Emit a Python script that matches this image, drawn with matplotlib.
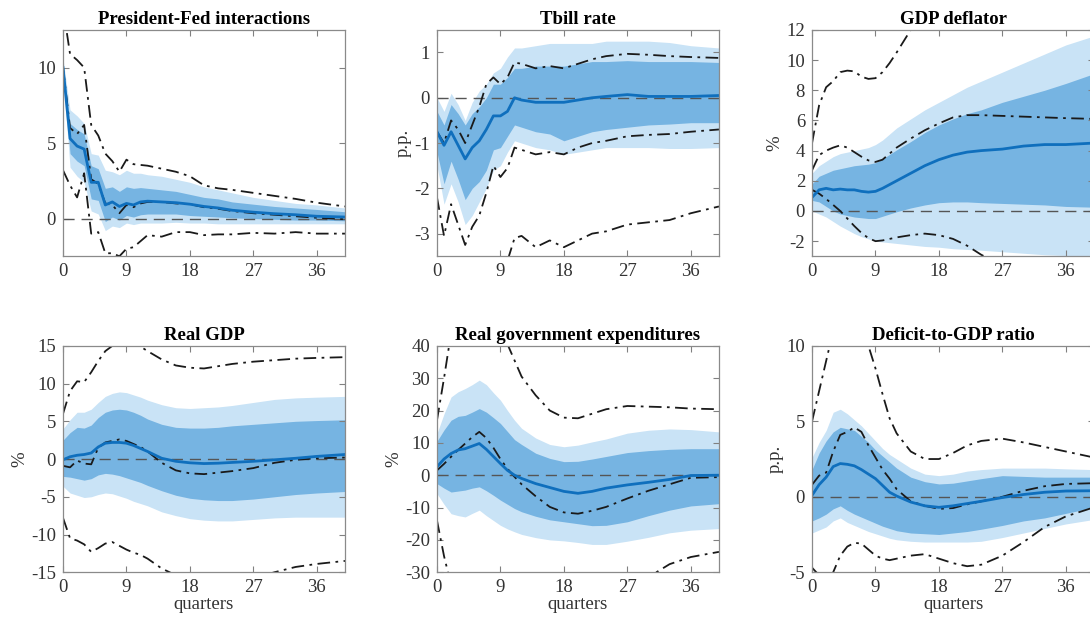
import numpy as np
import matplotlib
matplotlib.use('Agg')
import matplotlib.pyplot as plt

plt.rcParams['font.family'] = ['Liberation Serif', 'DejaVu Serif']
plt.rcParams['axes.unicode_minus'] = False

quarters = [0, 1, 2, 3, 4, 5, 6, 7, 8, 9, 10, 11, 12, 14, 16, 18, 20, 22, 24, 27, 30, 33, 36, 40]

titles = ['President-Fed interactions', 'Tbill rate', 'GDP deflator',
          'Real GDP', 'Real government expenditures', 'Deficit-to-GDP ratio']
ylabels = ['', 'p.p.', '%', '%', '%', 'p.p.']
ylims = [(-2.5, 12.5), (-3.5, 1.5), (-3, 12), (-15, 15), (-30, 40), (-5, 10)]
yticks = [[0, 5, 10], [-3, -2, -1, 0, 1], [-2, 0, 2, 4, 6, 8, 10, 12],
          [-15, -10, -5, 0, 5, 10, 15], [-30, -20, -10, 0, 10, 20, 30, 40],
          [-5, 0, 5, 10]]
xticks = [0, 9, 18, 27, 36]

# President-Fed interactions
pf_med = [10, 5.3, 4.8, 4.6, 2.4, 2.4, 0.9, 1.1, 0.8, 1.0, 0.9, 1.1, 1.15, 1.1, 1.05, 0.95, 0.8, 0.7, 0.55, 0.42, 0.32, 0.25, 0.15, 0.1]
pf_d_hi = [10.3, 6.3, 5.9, 5.6, 3.5, 3.3, 2.0, 2.1, 1.8, 2.1, 2.0, 2.05, 2.0, 1.9, 1.8, 1.6, 1.4, 1.3, 1.1, 0.95, 0.8, 0.7, 0.6, 0.45]
pf_d_lo = [9.7, 4.3, 3.8, 3.5, 1.3, 1.2, -0.2, 0.1, -0.1, 0.2, 0.1, 0.25, 0.3, 0.3, 0.3, 0.2, 0.15, 0.1, 0.05, 0.0, -0.05, -0.1, -0.1, -0.15]
pf_l_hi = [10.6, 7.2, 6.8, 6.3, 4.3, 4.2, 3.2, 3.1, 2.9, 3.2, 3.0, 3.0, 2.9, 2.8, 2.6, 2.4, 2.1, 1.9, 1.7, 1.4, 1.2, 1.0, 0.9, 0.7]
pf_l_lo = [9.3, 3.4, 2.8, 2.4, 0.5, 0.3, -0.8, -0.5, -0.6, -0.3, -0.4, -0.3, -0.3, -0.3, -0.25, -0.3, -0.3, -0.35, -0.35, -0.35, -0.35, -0.35, -0.35, -0.35]
pf_a_hi = [14, 10.9, 10.5, 10.0, 6.2, 5.5, 4.3, 3.8, 3.1, 3.9, 3.6, 3.55, 3.5, 3.3, 3.1, 2.8, 2.2, 2.0, 1.9, 1.7, 1.5, 1.3, 1.05, 0.8]
pf_a_med = [10, 6.0, 5.6, 6.2, 2.6, 2.3, 1.0, 0.9, 0.35, 0.9, 0.75, 1.0, 1.1, 1.1, 1.0, 0.95, 0.75, 0.65, 0.5, 0.35, 0.25, 0.15, 0.05, -0.05]
pf_a_lo = [3.2, 2.2, 1.4, 3.0, -1.0, -0.9, -2.3, -2.3, -2.5, -2.0, -1.9, -1.5, -1.1, -1.2, -0.9, -0.9, -1.1, -1.05, -1.05, -0.95, -1.0, -0.9, -1.0, -1.0]

# Tbill rate
tb_med = [-0.75, -1.05, -0.75, -1.05, -1.35, -1.1, -0.95, -0.7, -0.4, -0.4, -0.3, 0.0, -0.05, -0.1, -0.1, -0.1, -0.05, 0.0, 0.03, 0.07, 0.03, 0.03, 0.03, 0.05]
tb_d_hi = [-0.3, -0.6, -0.15, -0.35, -0.6, -0.35, -0.2, 0.0, 0.3, 0.3, 0.45, 0.65, 0.65, 0.7, 0.7, 0.7, 0.75, 0.8, 0.8, 0.82, 0.8, 0.8, 0.8, 0.78]
tb_d_lo = [-1.2, -1.9, -1.4, -1.8, -2.25, -2.0, -1.85, -1.6, -1.15, -1.1, -0.85, -0.6, -0.65, -0.75, -0.8, -0.95, -0.85, -0.75, -0.7, -0.65, -0.6, -0.58, -0.55, -0.55]
tb_l_hi = [0.0, -0.3, 0.1, -0.15, -0.5, -0.1, 0.15, 0.3, 0.55, 0.65, 0.9, 1.1, 1.1, 1.15, 1.2, 1.2, 1.2, 1.2, 1.25, 1.25, 1.25, 1.22, 1.15, 1.1]
tb_l_lo = [-1.5, -2.35, -1.9, -2.3, -2.8, -2.6, -2.3, -2.0, -1.6, -1.5, -1.2, -0.95, -1.0, -1.1, -1.15, -1.25, -1.2, -1.15, -1.1, -1.1, -1.1, -1.12, -1.12, -1.1]
tb_a_hi = [-0.75, -1.0, -0.5, -0.7, -1.0, -0.6, -0.2, 0.3, 0.45, 0.3, 0.45, 0.78, 0.75, 0.65, 0.7, 0.65, 0.75, 0.85, 0.92, 0.97, 0.95, 0.92, 0.9, 0.88]
tb_a_med = [-2.2, -3.05, -2.35, -2.8, -3.25, -2.85, -2.6, -2.1, -1.5, -1.75, -1.55, -1.1, -1.15, -1.25, -1.2, -1.25, -1.1, -1.0, -0.95, -0.85, -0.82, -0.8, -0.75, -0.7]
tb_a_lo = [-5.5, -6.5, -6.0, -6.2, -6.5, -6.0, -5.5, -5.0, -4.6, -4.2, -3.6, -3.1, -3.05, -3.3, -3.15, -3.3, -3.15, -3.0, -2.95, -2.8, -2.75, -2.7, -2.55, -2.4]

# GDP deflator
gd_med = [0.9, 1.4, 1.5, 1.4, 1.45, 1.4, 1.4, 1.3, 1.25, 1.3, 1.5, 1.75, 2.0, 2.5, 3.0, 3.4, 3.7, 3.9, 4.0, 4.1, 4.3, 4.4, 4.4, 4.5]
gd_d_hi = [1.8, 2.3, 2.5, 2.7, 2.8, 2.9, 3.0, 3.05, 3.1, 3.2, 3.45, 3.75, 4.05, 4.6, 5.2, 5.7, 6.1, 6.45, 6.7, 7.2, 7.6, 8.0, 8.45, 9.1]
gd_d_lo = [0.7, 0.6, 0.3, 0.0, -0.2, -0.3, -0.4, -0.45, -0.5, -0.5, -0.35, -0.2, -0.05, 0.2, 0.4, 0.55, 0.6, 0.6, 0.55, 0.5, 0.45, 0.4, 0.3, 0.25]
gd_l_hi = [2.5, 3.0, 3.3, 3.6, 3.8, 3.9, 4.0, 4.1, 4.2, 4.4, 4.7, 5.1, 5.5, 6.1, 6.7, 7.2, 7.7, 8.2, 8.6, 9.2, 9.8, 10.4, 11.0, 11.6]
gd_l_lo = [0.0, -0.2, -0.4, -0.7, -1.0, -1.25, -1.5, -1.7, -1.85, -2.0, -2.05, -2.1, -2.15, -2.25, -2.35, -2.4, -2.5, -2.55, -2.6, -2.7, -2.8, -2.9, -2.95, -3.05]
gd_a_hi = [4.5, 7.0, 8.2, 8.6, 9.2, 9.3, 9.25, 8.9, 8.75, 8.8, 9.2, 9.8, 10.5, 12.0, 13.2, 14.3, 15.3, 16.2, 17.0, 18.0, 19.0, 19.8, 20.5, 21.0]
gd_a_med = [2.7, 3.7, 4.0, 4.2, 4.35, 4.2, 3.9, 3.6, 3.35, 3.25, 3.4, 3.8, 4.2, 4.8, 5.35, 5.8, 6.2, 6.35, 6.35, 6.3, 6.25, 6.2, 6.15, 6.1]
gd_a_lo = [1.4, 1.15, 0.8, 0.4, 0.0, -0.5, -1.0, -1.45, -1.8, -2.0, -1.95, -1.85, -1.75, -1.6, -1.5, -1.6, -1.85, -2.3, -2.9, -3.6, -4.3, -4.9, -5.5, -6.2]

# Real GDP
rg_med = [-0.1, 0.3, 0.5, 0.6, 0.8, 1.6, 2.1, 2.2, 2.2, 2.1, 1.8, 1.4, 1.0, 0.1, -0.3, -0.5, -0.6, -0.55, -0.45, -0.3, -0.1, 0.1, 0.35, 0.6]
rg_d_hi = [2.5, 3.5, 4.2, 4.1, 4.5, 5.5, 6.2, 6.5, 6.6, 6.5, 6.2, 5.8, 5.3, 4.6, 4.2, 4.1, 4.1, 4.2, 4.4, 4.6, 4.8, 5.0, 5.1, 5.2]
rg_d_lo = [-2.3, -2.4, -2.6, -2.8, -2.6, -2.1, -1.9, -2.0, -2.2, -2.5, -2.8, -3.1, -3.5, -4.2, -4.8, -5.2, -5.4, -5.5, -5.5, -5.3, -5.0, -4.7, -4.5, -4.3]
rg_l_hi = [4.0, 5.2, 6.2, 6.2, 6.6, 7.5, 8.3, 8.7, 8.9, 8.8, 8.5, 8.2, 7.8, 7.2, 6.8, 6.7, 6.8, 6.9, 7.1, 7.5, 7.9, 8.1, 8.2, 8.3]
rg_l_lo = [-3.6, -4.5, -4.8, -5.1, -5.0, -4.7, -4.5, -4.6, -4.9, -5.2, -5.6, -5.9, -6.2, -7.0, -7.5, -7.9, -8.1, -8.2, -8.2, -8.0, -7.8, -7.7, -7.7, -7.7]
rg_a_hi = [6.0, 9.0, 10.3, 10.2, 11.5, 13.0, 14.3, 15.0, 15.5, 15.6, 15.3, 14.9, 14.3, 13.2, 12.4, 12.1, 12.0, 12.3, 12.6, 12.9, 13.1, 13.3, 13.4, 13.5]
rg_a_med = [-0.9, -1.1, -0.2, -0.6, -0.7, 1.5, 2.2, 2.4, 2.6, 2.4, 2.0, 1.6, 1.0, -0.5, -1.5, -1.9, -2.0, -1.8, -1.6, -1.2, -0.5, -0.1, 0.1, 0.2]
rg_a_lo = [-7.8, -10.5, -10.8, -11.3, -12.3, -11.8, -11.2, -11.0, -11.5, -12.0, -12.4, -12.7, -13.2, -14.5, -15.4, -16.0, -16.5, -16.6, -16.4, -15.8, -15.0, -14.3, -13.9, -13.5]

# Real government expenditures
ge_med = [2.6, 5.0, 6.7, 7.8, 8.2, 9.0, 9.8, 8.0, 5.8, 3.6, 1.5, 0.0, -1.0, -2.6, -3.8, -5.0, -5.6, -5.0, -4.0, -3.0, -2.2, -1.3, -0.1, 0.0]
ge_d_hi = [10.5, 14.0, 17.0, 18.2, 18.5, 19.5, 20.6, 19.5, 17.8, 16.0, 13.5, 11.0, 9.5, 6.8, 5.2, 4.2, 4.3, 5.0, 5.8, 7.0, 7.6, 8.0, 8.2, 8.2]
ge_d_lo = [-2.6, -4.0, -5.2, -4.9, -4.6, -4.0, -3.6, -4.8, -6.2, -7.7, -9.0, -10.3, -11.3, -12.7, -13.8, -14.4, -15.0, -15.6, -15.5, -14.4, -12.5, -10.8, -9.5, -8.8]
ge_l_hi = [12.9, 19.0, 24.2, 25.8, 26.8, 28.0, 29.4, 28.0, 25.5, 23.2, 20.0, 17.0, 14.5, 11.5, 9.5, 8.8, 9.3, 10.3, 11.2, 13.0, 13.9, 14.3, 14.1, 13.4]
ge_l_lo = [-5.7, -9.0, -11.9, -12.5, -12.9, -11.8, -10.8, -12.5, -14.0, -15.5, -16.6, -17.5, -18.3, -19.3, -20.0, -20.3, -20.8, -21.4, -21.4, -20.4, -19.2, -17.8, -17.0, -16.5]
ge_a_hi = [17, 30, 44, 52, 56, 58, 58, 56, 52, 46, 40.5, 35.5, 30.5, 24.7, 20.0, 17.8, 17.6, 19.0, 20.4, 21.4, 21.2, 21.0, 20.6, 20.4]
ge_a_med = [1.5, 3.5, 5.7, 7.8, 9.8, 11.8, 13.4, 11.5, 8.5, 5.0, 2.0, -0.5, -2.8, -6.5, -9.8, -11.5, -11.9, -11.0, -9.8, -7.2, -4.8, -2.8, -0.8, -0.6]
ge_a_lo = [-14, -25, -34, -40, -45, -48, -50, -50, -49, -48, -47, -46, -45, -43, -41, -40, -39, -38, -36.5, -34, -31.5, -27.5, -25.3, -23.7]

# Deficit-to-GDP ratio
dg_med = [0.1, 0.8, 1.3, 2.0, 2.2, 2.15, 2.05, 1.8, 1.5, 1.2, 0.75, 0.3, 0.05, -0.35, -0.6, -0.7, -0.6, -0.45, -0.3, -0.05, 0.15, 0.3, 0.38, 0.4]
dg_d_hi = [1.8, 2.9, 3.7, 4.3, 4.6, 4.5, 4.4, 4.0, 3.6, 3.1, 2.7, 2.3, 1.9, 1.3, 1.0, 0.85, 0.9, 1.05, 1.2, 1.4, 1.35, 1.3, 1.3, 1.3]
dg_d_lo = [-1.6, -1.4, -1.15, -0.8, -0.6, -0.9, -1.15, -1.35, -1.55, -1.75, -1.95, -2.1, -2.25, -2.4, -2.45, -2.5, -2.4, -2.3, -2.15, -1.9, -1.6, -1.4, -1.1, -0.7]
dg_l_hi = [2.6, 3.6, 4.4, 5.6, 5.8, 5.5, 5.1, 4.7, 4.2, 3.7, 3.2, 2.8, 2.5, 1.9, 1.5, 1.4, 1.5, 1.7, 1.8, 1.9, 1.9, 1.9, 1.85, 1.8]
dg_l_lo = [-2.4, -2.2, -2.0, -1.6, -1.4, -1.7, -1.9, -2.1, -2.3, -2.45, -2.6, -2.75, -2.85, -2.95, -3.0, -3.0, -3.0, -3.0, -2.95, -2.7, -2.4, -2.1, -1.8, -1.5]
dg_a_hi = [5.0, 7.0, 9.0, 11.0, 12.5, 13.0, 12.8, 11.8, 10.0, 8.5, 6.8, 5.2, 4.2, 3.0, 2.5, 2.5, 2.9, 3.4, 3.7, 3.85, 3.6, 3.3, 3.0, 2.6]
dg_a_med = [0.8, 1.4, 1.6, 3.0, 4.1, 4.3, 4.6, 4.3, 3.4, 2.6, 1.8, 1.2, 0.5, -0.3, -0.6, -0.8, -0.75, -0.5, -0.3, 0.0, 0.4, 0.7, 0.85, 0.9]
dg_a_lo = [-4.7, -5.2, -5.6, -5.0, -3.9, -3.3, -3.05, -3.1, -3.5, -3.9, -4.1, -4.2, -4.1, -3.9, -3.8, -4.1, -4.4, -4.6, -4.5, -3.9, -3.0, -2.0, -1.3, -0.7]

panels = [
    (pf_med, pf_d_lo, pf_d_hi, pf_l_lo, pf_l_hi, pf_a_lo, pf_a_med, pf_a_hi),
    (tb_med, tb_d_lo, tb_d_hi, tb_l_lo, tb_l_hi, tb_a_lo, tb_a_med, tb_a_hi),
    (gd_med, gd_d_lo, gd_d_hi, gd_l_lo, gd_l_hi, gd_a_lo, gd_a_med, gd_a_hi),
    (rg_med, rg_d_lo, rg_d_hi, rg_l_lo, rg_l_hi, rg_a_lo, rg_a_med, rg_a_hi),
    (ge_med, ge_d_lo, ge_d_hi, ge_l_lo, ge_l_hi, ge_a_lo, ge_a_med, ge_a_hi),
    (dg_med, dg_d_lo, dg_d_hi, dg_l_lo, dg_l_hi, dg_a_lo, dg_a_med, dg_a_hi),
]

light = '#c9e3f6'
dark = '#76b4e2'
line_blue = '#0f6fbd'

fig = plt.figure(figsize=(10.9, 6.22), dpi=100)

lefts = [0.0578, 0.4009, 0.745]
bottoms = [0.588, 0.080]
w, h = 0.2587, 0.364

for i, (med, d_lo, d_hi, l_lo, l_hi, a_lo, a_med, a_hi) in enumerate(panels):
    ax = fig.add_axes([lefts[i % 3], bottoms[i // 3], w, h])
    ax.fill_between(quarters, l_lo, l_hi, color=light, lw=0)
    ax.fill_between(quarters, d_lo, d_hi, color=dark, lw=0)
    ax.axhline(0, color='#555555', lw=1.0, ls=(0, (8, 5)))
    for s in (a_lo, a_med, a_hi):
        ax.plot(quarters, s, color='#1a1a1a', lw=1.3, ls=(0, (7, 3, 1.5, 3)))
    ax.plot(quarters, med, color=line_blue, lw=2)
    ax.set_xlim(0, 40)
    ax.set_ylim(*ylims[i])
    ax.set_xticks(xticks)
    ax.set_yticks(yticks[i])
    ax.set_title(titles[i], fontsize=13.5, fontweight='bold', pad=4)
    if ylabels[i]:
        ax.set_ylabel(ylabels[i], fontsize=13.5, color='#333333', labelpad=2)
    if i >= 3:
        ax.set_xlabel('quarters', fontsize=13.5, color='#333333', labelpad=0)
    ax.tick_params(direction='in', top=True, right=True, labelsize=13.5,
                   colors='#808080', labelcolor='#333333', length=4, pad=5)
    for sp in ax.spines.values():
        sp.set_color('#8a8a8a')
        sp.set_linewidth(0.9)

fig.savefig('out.png', dpi=100)
